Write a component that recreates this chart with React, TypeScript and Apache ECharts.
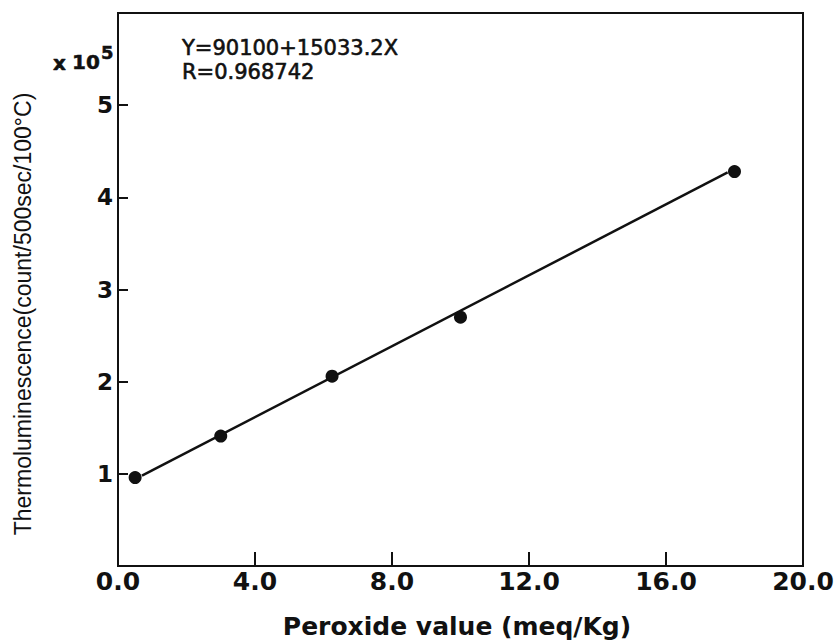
import React, { useEffect, useRef } from "react";
import * as echarts from "echarts";

// Data
const peroxideValues = [0.5, 3.0, 6.25, 10.0, 18.0];
const thermoValues = [0.96, 1.41, 2.06, 2.7, 4.28]; // x 10^5
const fitLineX = [0.7, 17.8];
const fitLineY = [0.98, 4.27];
const equationText = "Y=90100+15033.2X";
const rText = "R=0.968742";
const xAxisTitle = "Peroxide value (meq/Kg)";
const yAxisTitle = "Thermoluminescence(count/500sec/100°C)";

const INK = "#111111";

export default function App() {
  const ref = useRef<HTMLDivElement>(null);

  useEffect(() => {
    document.body.style.margin = "0";
    if (!ref.current) return;
    const chart = echarts.init(ref.current, undefined, { renderer: "svg" });
    const points = peroxideValues.map((x, i) => [x, thermoValues[i]]);
    const fit = fitLineX.map((x, i) => [x, fitLineY[i]]);
    const boldText = (text: string, x: number, y: number, size: number) => ({
      type: "text",
      x,
      y,
      style: {
        text,
        fill: INK,
        stroke: INK,
        lineWidth: 0.5,
        fontFamily: "DejaVu Sans",
        fontWeight: "bold",
        fontSize: size,
        verticalAlign: "middle",
        align: "left",
      },
    });
    chart.setOption({
      animation: false,
      backgroundColor: "#ffffff",
      grid: {
        left: 118,
        right: 35,
        top: 13,
        bottom: 78,
        show: true,
        borderColor: INK,
        borderWidth: 2,
      },
      xAxis: {
        type: "value",
        min: 0,
        max: 20,
        interval: 4,
        axisLine: { show: true, lineStyle: { color: INK, width: 2 } },
        axisTick: { show: true, inside: true, length: 14, lineStyle: { color: INK, width: 2 } },
        splitLine: { show: false },
        axisLabel: {
          color: INK,
          fontFamily: "DejaVu Sans",
          fontWeight: "bold",
          fontSize: 25,
          margin: 3,
          formatter: (v: number) => v.toFixed(1),
        },
      },
      yAxis: {
        type: "value",
        min: 0,
        max: 6,
        interval: 1,
        axisLine: { show: true, lineStyle: { color: INK, width: 2 } },
        axisTick: { show: true, inside: true, length: 10, lineStyle: { color: INK, width: 2 } },
        splitLine: { show: false },
        axisLabel: {
          color: INK,
          fontFamily: "DejaVu Sans",
          fontWeight: "bold",
          fontSize: 23,
          margin: 5,
          showMinLabel: false,
          showMaxLabel: false,
        },
      },
      series: [
        {
          type: "line",
          data: fit,
          symbol: "none",
          lineStyle: { color: INK, width: 2.5 },
          silent: true,
        },
        {
          type: "scatter",
          data: points,
          symbol: "circle",
          symbolSize: 13,
          itemStyle: { color: INK, opacity: 1 },
        },
      ],
      graphic: [
        boldText("x", 53, 63, 20),
        boldText("10", 72, 62, 20),
        boldText("5", 101, 52, 18),
        {
          type: "text",
          x: 182,
          y: 48,
          style: {
            text: equationText,
            fill: INK,
            stroke: INK,
            lineWidth: 0.6,
            fontFamily: "DejaVu Sans",
            fontSize: 21,
            verticalAlign: "middle",
            align: "left",
          },
        },
        {
          type: "text",
          x: 182,
          y: 72,
          style: {
            text: rText,
            fill: INK,
            stroke: INK,
            lineWidth: 0.6,
            fontFamily: "DejaVu Sans",
            fontSize: 21,
            verticalAlign: "middle",
            align: "left",
          },
        },
        {
          type: "text",
          x: 23,
          y: 314,
          rotation: Math.PI / 2,
          style: {
            text: yAxisTitle,
            fill: INK,
            fontFamily: "Liberation Sans",
            fontSize: 23,
            verticalAlign: "middle",
            align: "center",
          },
        },
        {
          type: "text",
          x: 457,
          y: 626,
          style: {
            text: xAxisTitle,
            fill: INK,
            fontFamily: "DejaVu Sans",
            fontWeight: "bold",
            fontSize: 25,
            verticalAlign: "middle",
            align: "center",
          },
        },
      ],
    });
    return () => chart.dispose();
  }, []);

  return (
    <div
      ref={ref}
      style={{ position: "absolute", left: 0, top: 0, width: 838, height: 644 }}
    />
  );
}
